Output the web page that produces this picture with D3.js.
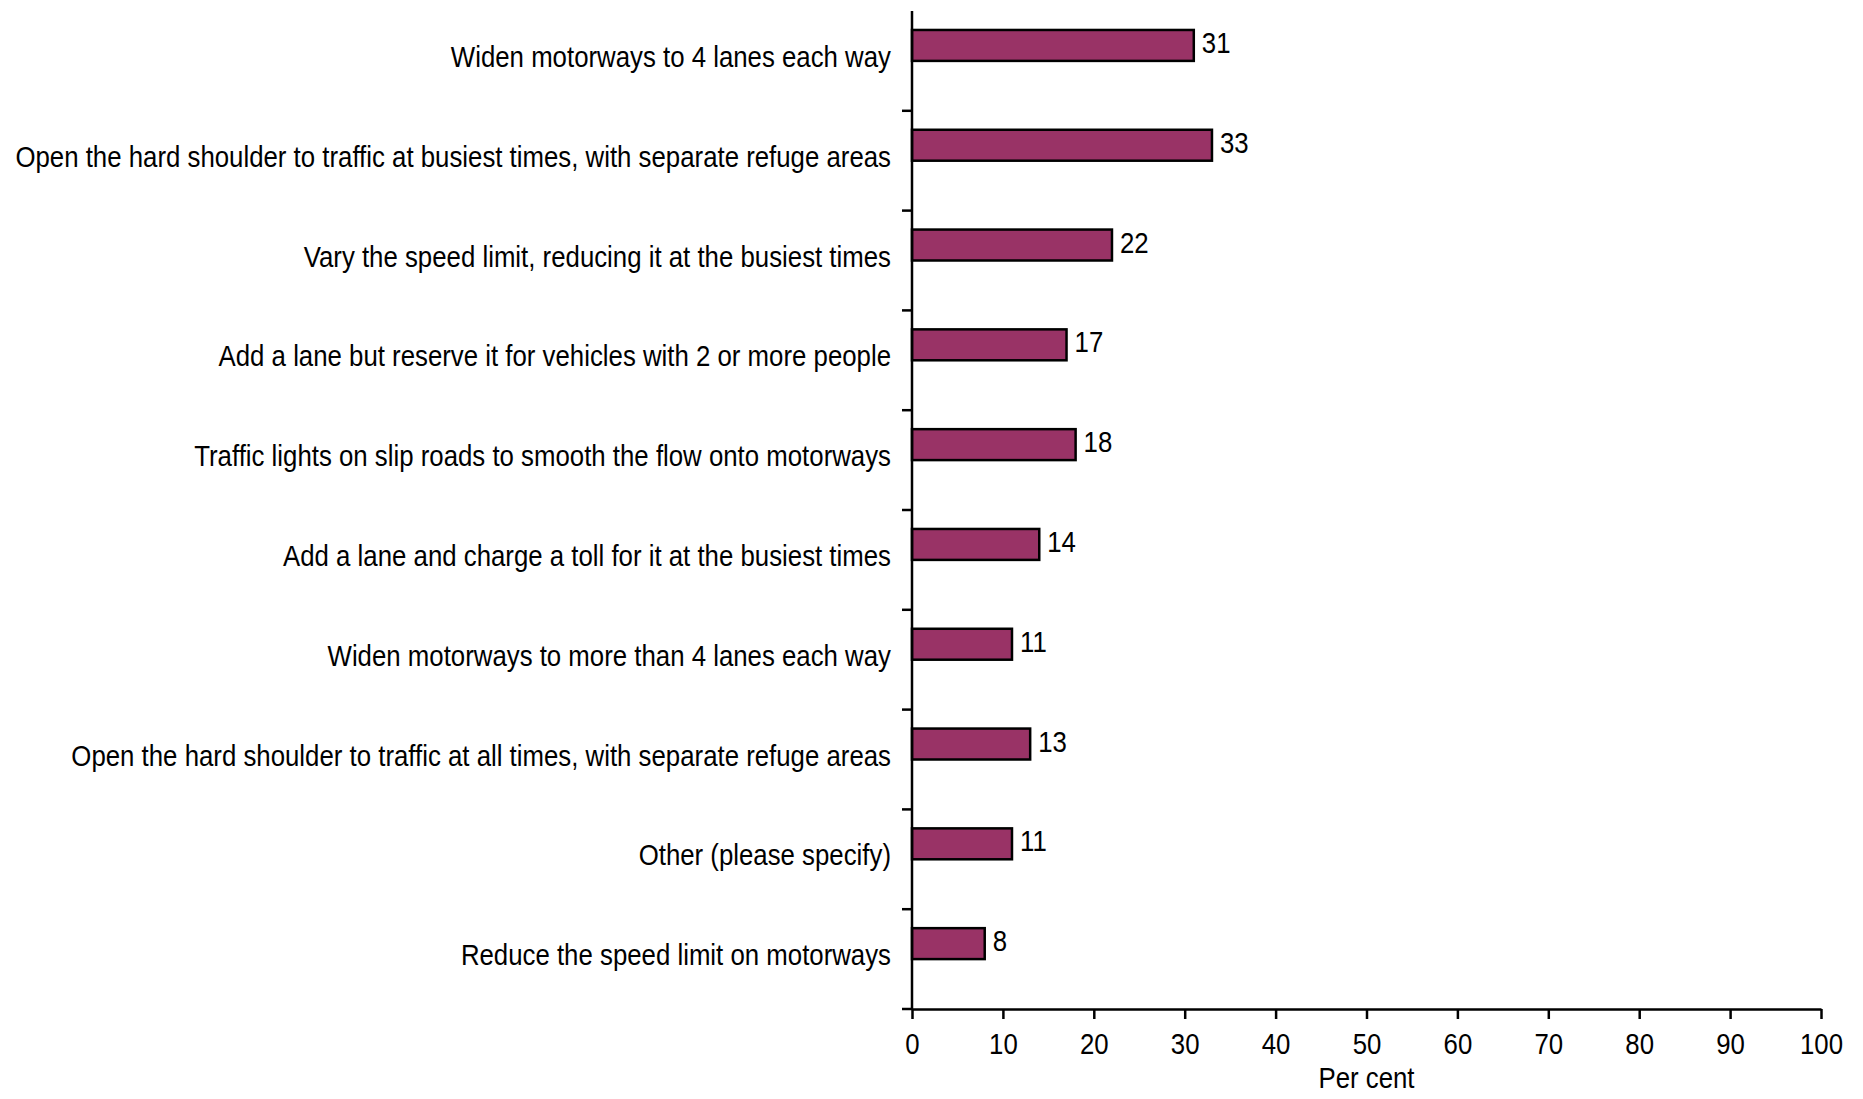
<!DOCTYPE html>
<html><head><meta charset="utf-8">
<script src="https://cdn.jsdelivr.net/npm/d3@7"></script>
<style>body{margin:0;background:#fff}svg{display:block}text{font-family:Arial,"Liberation Sans",sans-serif;fill:#000}</style>
</head><body>
<script>
const categories = [
  "Widen motorways to 4 lanes each way",
  "Open the hard shoulder to traffic at busiest times, with separate refuge areas",
  "Vary the speed limit, reducing it at the busiest times",
  "Add a lane but reserve it for vehicles with 2 or more people",
  "Traffic lights on slip roads to smooth the flow onto motorways",
  "Add a lane and charge a toll for it at the busiest times",
  "Widen motorways to more than 4 lanes each way",
  "Open the hard shoulder to traffic at all times, with separate refuge areas",
  "Other (please specify)",
  "Reduce the speed limit on motorways"
];
const values = [31, 33, 22, 17, 18, 14, 11, 13, 11, 8];
const xTicks = [0,10,20,30,40,50,60,70,80,90,100];
const xTitle = "Per cent";

const W = 1863, H = 1099;
const svg = d3.select("body").append("svg").attr("width", W).attr("height", H);
const x = d3.scaleLinear().domain([0,100]).range([912, 1821]);
const y = d3.scaleBand().domain(categories).range([11, 1009]);
const bw = y.bandwidth();
const fs = 25.8, sy = 1.11;

// bars
svg.selectAll("rect.bar").data(values).join("rect")
  .attr("x", x(0)).attr("y", (d,i)=>y(categories[i]) + bw*0.19)
  .attr("width", d=>x(d)-x(0)).attr("height", bw*0.31)
  .attr("fill", "#993366").attr("stroke", "#000").attr("stroke-width", 2.5);

// value labels
svg.selectAll("text.val").data(values).join("text")
  .attr("transform",(d,i)=>`translate(${x(d)+8},${y(categories[i]) + bw*0.32}) scale(1,${sy})`)
  .attr("dy","0.35em").attr("font-size",fs).text(d=>d);

// x axis
const gx = svg.append("g").attr("transform",`translate(0,${y.range()[1]})`)
  .call(d3.axisBottom(x).tickValues(xTicks).tickSize(10).tickSizeOuter(0));
gx.select(".domain").attr("stroke","#000").attr("stroke-width",2.5);
gx.selectAll(".tick line").attr("stroke","#000").attr("stroke-width",2.5);
gx.selectAll(".tick text").attr("font-size",fs).attr("y",0).attr("dy",0)
  .attr("transform",`translate(0,45) scale(1,${sy})`).attr("font-family","Arial, 'Liberation Sans', sans-serif");

// y axis line and category ticks
const gy = svg.append("g").attr("transform",`translate(${x(0)},0)`);
gy.append("line").attr("x1",0).attr("x2",0).attr("y1",y.range()[0]).attr("y2",y.range()[1])
  .attr("stroke","#000").attr("stroke-width",2.5);
gy.selectAll("line.tk").data(categories.slice(1)).join("line")
  .attr("x1",-10).attr("x2",0).attr("y1",d=>y(d)).attr("y2",d=>y(d))
  .attr("stroke","#000").attr("stroke-width",2.5);
gy.append("line").attr("x1",-10).attr("x2",0).attr("y1",y.range()[1]).attr("y2",y.range()[1])
  .attr("stroke","#000").attr("stroke-width",2.5);

// category labels
svg.selectAll("text.cat").data(categories).join("text")
  .attr("transform",d=>`translate(891,${y(d)+bw*0.46}) scale(1,${sy})`)
  .attr("dy","0.35em").attr("text-anchor","end").attr("font-size",fs).text(d=>d);

// axis title
svg.append("text").attr("transform",`translate(${x(50)},1078) scale(1,${sy})`)
  .attr("dy","0.35em").attr("text-anchor","middle").attr("font-size",fs).text(xTitle);
</script>
</body></html>
